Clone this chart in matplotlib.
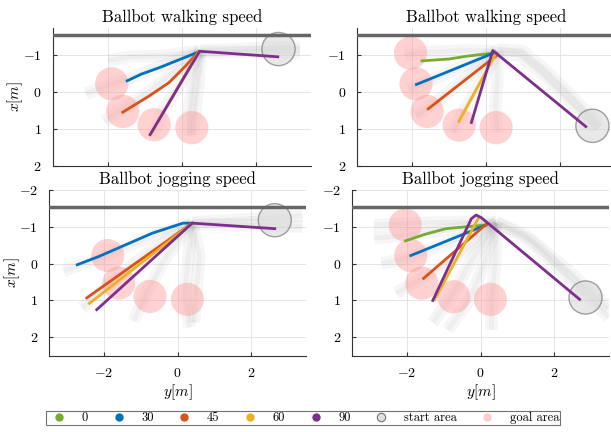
import numpy as np
import matplotlib
matplotlib.use("Agg")
import matplotlib.pyplot as plt
from matplotlib.patches import Circle
from matplotlib.lines import Line2D

plt.rcParams['font.family'] = 'cmr10'
plt.rcParams['mathtext.fontset'] = 'cm'
plt.rcParams['axes.unicode_minus'] = False
plt.rcParams['axes.formatter.use_mathtext'] = True

# ── colours (MATLAB default order) ────────────────────────────────────────────
COLORS = {'0': '#77AC30', '30': '#0072BD', '45': '#D95319',
          '60': '#EDB120', '90': '#7E2F8E'}

# ── data: points are (y[m], x[m]) ────────────────────────────────────────────
TITLES = ['Ballbot walking speed', 'Ballbot walking speed',
          'Ballbot jogging speed', 'Ballbot jogging speed']

WALL_X = -1.55
GOAL_R = 0.45
START_R = 0.45

goals_left = [(-1.9, -0.22), (-1.6, 0.53), (-0.75, 0.89), (0.27, 0.97)]
goals_right = [(-2.05, -1.05), (-1.9, -0.22), (-1.6, 0.53), (-0.73, 0.9), (0.27, 0.97)]
GOALS = [goals_left, goals_right, goals_left, goals_right]

STARTS = [(2.62, -1.16), (2.88, 0.92), (2.65, -1.18), (2.86, 0.92)]

# robot trajectories per panel, by approach angle
traj_tl = {
    '30': [(0.45, -1.08), (-0.1, -0.86), (-0.6, -0.66), (-1.1, -0.48), (-1.48, -0.3)],
    '45': [(0.45, -1.08), (0.1, -0.7), (-0.35, -0.25), (-0.9, 0.12), (-1.6, 0.55)],
    '60': [(0.45, -1.08), (-0.82, 1.1)],
    '90': [(2.6, -0.95), (0.48, -1.1), (-0.86, 1.16)],
}
traj_tr = {
    '0': [(0.2, -1.05), (-0.5, -0.97), (-1.0, -0.89), (-1.74, -0.84)],
    '30': [(0.2, -1.05), (-1.89, -0.2)],
    '45': [(0.3, -1.0), (-1.57, 0.46)],
    '60': [(0.27, -1.05), (-0.74, 0.8)],
    '90': [(2.7, 0.94), (0.18, -1.12), (-0.4, 0.83)],
}
traj_bl = {
    '30': [(0.4, -1.1), (0.15, -1.1), (-0.68, -0.83), (-2.13, -0.2), (-2.73, 0.03)],
    '45': [(0.4, -1.1), (-2.47, 0.93)],
    '60': [(0.4, -1.1), (-2.4, 1.08)],
    '90': [(2.65, -0.95), (0.4, -1.1), (-2.2, 1.25)],
}
traj_br = {
    '0': [(0.15, -1.05), (-0.4, -1.0), (-0.94, -0.95), (-1.5, -0.8), (-2.04, -0.62)],
    '30': [(0.15, -1.05), (-0.39, -0.83), (-1.9, -0.22)],
    '45': [(0.19, -1.1), (-1.55, 0.4)],
    '60': [(-0.05, -1.25), (-1.25, 0.98)],
    '90': [(2.7, 0.97), (0.02, -1.25), (-0.12, -1.32), (-0.25, -1.22), (-1.3, 1.0)],
}
TRAJ = [traj_tl, traj_tr, traj_bl, traj_br]

# faint recorded trajectories in the background
gray_tl = [
    [(3.2, -1.22), (2.0, -1.18), (0.5, -1.12)],
    [(3.2, -1.05), (2.0, -1.08), (0.5, -1.08)],
    [(0.5, -1.1), (-0.3, -0.8), (-1.2, -0.45), (-2.2, -0.1), (-2.6, 0.05)],
    [(0.5, -1.1), (-0.5, -0.98), (-1.4, -0.95), (-2.0, -0.85)],
    [(0.5, -1.1), (-0.2, -0.55), (-0.9, 0.0), (-1.6, 0.45), (-2.1, 0.8)],
    [(0.5, -1.1), (0.0, -0.3), (-0.5, 0.5), (-0.8, 1.2)],
    [(0.5, -1.1), (0.3, -0.3), (0.2, 0.5), (0.22, 1.2)],
    [(0.5, -1.1), (0.45, -0.2), (0.35, 0.6), (0.3, 1.15)],
]
gray_tr = [
    [(0.3, -1.15), (1.0, -1.1), (1.6, -0.6), (2.5, 0.3), (3.1, 0.95)],
    [(0.3, -1.05), (0.9, -1.0), (1.5, -0.5), (2.4, 0.4), (3.0, 1.0)],
    [(0.3, -1.1), (-0.6, -1.12), (-1.5, -1.08), (-2.2, -1.0)],
    [(0.3, -1.1), (-0.5, -0.75), (-1.4, -0.35), (-2.1, -0.05)],
    [(0.3, -1.1), (-0.4, -0.5), (-1.2, 0.15), (-1.9, 0.65)],
    [(0.3, -1.1), (-0.1, -0.3), (-0.6, 0.5), (-0.9, 1.1)],
    [(0.3, -1.1), (0.3, -0.3), (0.25, 0.5), (0.3, 1.1)],
]
gray_bl = [
    [(3.4, -1.3), (2.0, -1.22), (0.4, -1.12)],
    [(3.4, -1.0), (2.0, -1.05), (0.4, -1.08)],
    [(0.4, -1.1), (-0.7, -0.75), (-2.0, -0.2), (-3.1, 0.2)],
    [(0.4, -1.1), (-0.8, -0.3), (-1.9, 0.6), (-2.6, 1.2)],
    [(0.4, -1.1), (-0.3, -0.2), (-0.8, 0.7), (-1.2, 1.56)],
    [(0.4, -1.1), (0.3, -0.2), (0.2, 0.8), (0.33, 1.73)],
    [(0.4, -1.1), (0.6, -0.2), (0.5, 0.8), (0.45, 1.6)],
]
gray_br = [
    [(3.5, 1.46), (2.5, 0.5), (1.4, -0.6), (0.43, -1.14)],
    [(3.5, 1.2), (2.4, 0.2), (1.2, -0.8), (0.43, -1.1)],
    [(0.43, -1.14), (-1.0, -1.12), (-2.2, -1.08), (-2.9, -1.05)],
    [(0.43, -1.1), (-1.0, -0.9), (-2.2, -0.75), (-2.9, -0.7)],
    [(0.43, -1.1), (-0.8, -0.6), (-2.0, -0.15), (-2.7, 0.0)],
    [(0.43, -1.1), (-0.6, -0.2), (-1.6, 0.4), (-2.3, 0.8)],
    [(0.43, -1.1), (-0.3, 0.0), (-0.8, 0.9), (-1.3, 1.6)],
    [(0.43, -1.1), (0.1, 0.0), (-0.3, 1.0), (-0.9, 1.8)],
    [(0.43, -1.1), (0.4, 0.0), (0.3, 1.0), (0.3, 1.8)],
]
GRAY = [gray_tl, gray_tr, gray_bl, gray_br]

YLIMS = [(2, -1.73), (2, -1.73), (2.5, -2), (2.5, -2)]
YTICKS = [[-1, 0, 1, 2], [-1, 0, 1, 2], [-2, -1, 0, 1, 2], [-2, -1, 0, 1, 2]]
XTICKS = [-2, 0, 2]

# axes rectangles in pixels: left, top, width, height
W, H = 611, 432
RECTS = [(52.7, 28, 258.3, 137.7), (357, 28, 258.3, 137.7),
         (49, 190, 257, 165.7), (352, 190, 257, 165.7)]
YLABEL_X = [25, None, 22, None]   # right edge of the rotated label, px

fig = plt.figure(figsize=(W / 100, H / 100), dpi=100)

for i in range(4):
    l, t, w, h = RECTS[i]
    ax = fig.add_axes([l / W, 1 - (t + h) / H, w / W, h / H])
    ax.set_xlim(-3.5, 3.5)
    ax.set_ylim(*YLIMS[i])
    ax.set_xticks(XTICKS)
    ax.set_yticks(YTICKS[i])
    ax.grid(True, color='0.88', lw=0.6)
    ax.set_axisbelow(True)
    for s in ['top', 'right']:
        ax.spines[s].set_visible(False)
    for s in ['left', 'bottom']:
        ax.spines[s].set_color('0.2')
        ax.spines[s].set_linewidth(0.8)
    ax.tick_params(direction='in', length=3, color='0.2', labelsize=10, pad=8)
    if i < 2:
        ax.set_xticklabels([])
    else:
        ax.set_xlabel('$y[m]$', fontsize=11, labelpad=2)
    if YLABEL_X[i] is not None:
        ax.set_ylabel('$x[m]$', fontsize=11)
        ax.yaxis.set_label_coords((YLABEL_X[i] - l) / w, 0.5)
    ax.set_title(TITLES[i], fontsize=12, pad=4)

    for path in GRAY[i]:
        p = np.array(path)
        ax.plot(p[:, 0], p[:, 1], color='0.62', lw=9, alpha=0.09,
                solid_capstyle='butt', solid_joinstyle='round', zorder=1)
        ax.plot(p[:, 0], p[:, 1], color='0.62', lw=3.5, alpha=0.09,
                solid_capstyle='butt', solid_joinstyle='round', zorder=1)

    ax.axhline(WALL_X, color='0.4', lw=2.5, zorder=3)

    for g in GOALS[i]:
        ax.add_patch(Circle(g, GOAL_R, facecolor='#ff9a9a', edgecolor='none',
                            alpha=0.45, zorder=2))
    ax.add_patch(Circle(STARTS[i], START_R, facecolor='0.85', edgecolor='0.4',
                        lw=1, alpha=0.6, zorder=2))

    for key, path in TRAJ[i].items():
        p = np.array(path)
        ax.plot(p[:, 0], p[:, 1], color=COLORS[key], lw=2, zorder=5)

# legend
handles = [Line2D([], [], ls='none', marker='o', ms=5, color=COLORS[k]) for k in COLORS]
handles.append(Line2D([], [], ls='none', marker='o', ms=6, markerfacecolor='0.88',
                      markeredgecolor='0.45', markeredgewidth=0.8))
handles.append(Line2D([], [], ls='none', marker='o', ms=6, markerfacecolor='#ffcccc',
                      markeredgecolor='none'))
labels = list(COLORS.keys()) + ['start area', 'goal area']
leg = fig.legend(handles, labels, ncol=7, loc='center',
                 bbox_to_anchor=(303 / W, 1 - 418 / H), fontsize=9,
                 frameon=True, fancybox=False, edgecolor='0.3',
                 handlelength=2.0, handletextpad=0.8, columnspacing=1.45,
                 borderpad=0.05, borderaxespad=0)
leg.get_frame().set_linewidth(0.8)

fig.savefig('out.png', dpi=100)
